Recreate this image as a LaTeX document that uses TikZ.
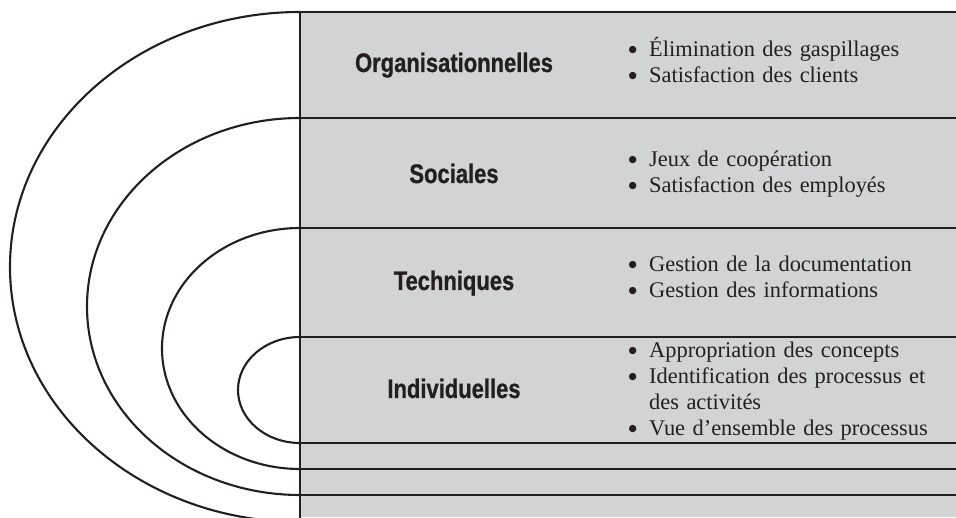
\documentclass[tikz,border=0pt]{standalone}
\usepackage{fontspec}
\setmainfont{Liberation Serif}
\newfontfamily\condfont{Liberation Sans}[FakeStretch=0.82, FakeBold=0.8]
\newfontfamily\bulfont{DejaVu Sans}
\definecolor{boxgray}{HTML}{D1D3D4}
\definecolor{ink}{HTML}{231F20}
\tikzset{
  rule/.style={draw=ink, line width=2.1pt},
  ring/.style={draw=ink, line width=2.1pt},
  levellabel/.style={anchor=base, inner sep=0pt, text=ink,
    font=\condfont\bfseries\fontsize{26.8}{30}\selectfont},
  itemlist/.style={anchor=base west, inner sep=0pt, text=ink, text width=330pt, align=left,
    font=\fontsize{22.4}{25.7}\selectfont}
}
\newcommand{\bul}{\makebox[21pt][l]{\hspace{0.5pt}\raisebox{4pt}{\bulfont\fontsize{9.5}{10}\selectfont ●}}}
\newcommand{\contline}{\hspace*{21pt}}
\begin{document}
\begin{tikzpicture}[x=1pt,y=1pt]
\useasboundingbox (0,0) rectangle (956,517);
\clip (0,0) rectangle (956,517);
% gray panel
\fill[boxgray] (300,0) rectangle (956,505);
% nested half rings
\draw[ring] (300,505) arc[start angle=90,end angle=270,x radius=290pt,y radius=255pt];
\draw[ring] (300,399) arc[start angle=90,end angle=270,x radius=213pt,y radius=188.5pt];
\draw[ring] (300,289) arc[start angle=90,end angle=270,x radius=138pt,y radius=120.5pt];
\draw[ring] (300,180) arc[start angle=90,end angle=270,x radius=62pt,y radius=53pt];
% horizontal rules
\foreach \yy in {505,399,289,180,74,48,22}{
  \draw[rule] (300,\yy) -- (960,\yy);
}
% vertical rule
\draw[rule] (300,-4) -- (300,506);
% labels
\node[levellabel] (org) at (454,445) {Organisationnelles};
\node[levellabel] (soc) at (454,334) {Sociales};
\node[levellabel] (tec) at (454,227) {Techniques};
\node[levellabel] (ind) at (454,119) {Individuelles};
% item lists
\node[itemlist] (orgitems) at (628,460) {\bul Élimination des gaspillages\\ \bul Satisfaction des clients};
\node[itemlist] (socitems) at (628,350) {\bul Jeux de coopération\\ \bul Satisfaction des employés};
\node[itemlist] (tecitems) at (628,245) {\bul Gestion de la documentation\\ \bul Gestion des informations};
\node[itemlist] (inditems) at (628,159) {\bul Appropriation des concepts\\ \bul\makebox[288pt][s]{Identification des processus et}\\ \contline des activités\\ \bul Vue d’ensemble des processus};
\end{tikzpicture}
\end{document}
